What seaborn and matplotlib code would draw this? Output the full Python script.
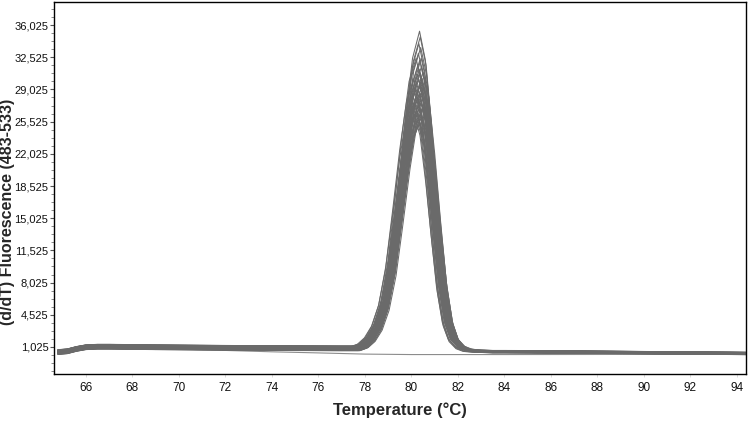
import numpy as np
import pandas as pd
import seaborn as sns
import matplotlib
matplotlib.use("Agg")
import matplotlib.pyplot as plt
from matplotlib.ticker import FixedLocator, AutoMinorLocator

# ---- data ----
# shared baseline (before and after the melt peak)
base_left_T = [64.8, 65.2, 65.6, 66.0, 66.5, 67.0, 68.0, 69.0, 70.0, 71.0, 72.0, 73.0, 74.0, 75.0, 76.0, 77.0, 77.6]
base_left_v = [480, 560, 820, 1000, 1060, 1060, 1030, 1000, 980, 960, 940, 920, 910, 900, 890, 880, 880]
base_right_T = [82.9, 83.5, 84.0, 85.0, 86.0, 87.0, 88.0, 89.0, 90.0, 91.0, 92.0, 93.0, 94.0, 94.4]
base_right_v = [560, 520, 520, 510, 490, 470, 450, 430, 410, 390, 370, 350, 330, 320]

# melt-peak profile: offset from peak temperature (°C) and fraction of peak height
peak_offset = [-2.7, -2.4, -2.1, -1.8, -1.5, -1.2, -0.9, -0.6, -0.3, 0.0, 0.25, 0.5, 0.75, 1.0, 1.25, 1.5, 1.8, 2.1, 2.5]
peak_frac = [0.0, 0.01, 0.035, 0.08, 0.16, 0.30, 0.51, 0.73, 0.91, 1.0, 0.91, 0.71, 0.47, 0.25, 0.11, 0.045, 0.015, 0.004, 0.0]

# individual samples: peak height, peak temperature, baseline offset
peak_height = [34900, 34100, 33500, 32900, 32400, 32000, 31600, 31200, 30900, 30600,
               30300, 30000, 29800, 29500, 29300, 29100, 28900, 28700, 28500, 28300,
               28100, 27900, 27700, 27500, 27300, 27100, 26900, 26700, 26500, 26300,
               26100, 25900, 25700, 25500, 25200, 24800, 29600, 28800, 27600, 26400,
               31800, 30400, 28000, 27000, 25900, 24600]
peak_temp = [80.35, 80.38, 80.32, 80.40, 80.30, 80.42, 80.36, 80.28, 80.44, 80.34,
             80.38, 80.26, 80.46, 80.32, 80.40, 80.22, 80.36, 80.44, 80.30, 80.18,
             80.40, 80.34, 80.48, 80.26, 80.38, 80.14, 80.42, 80.30, 80.50, 80.22,
             80.36, 80.12, 80.44, 80.28, 80.40, 80.34, 80.10, 80.52, 80.08, 80.46,
             80.20, 80.50, 80.16, 80.54, 80.24, 80.30]
base_shift = [-200, 150, -100, 250, 0, -250, 100, -150, 200, 50,
              -50, 180, -220, 120, -80, 230, -180, 60, -30, 160,
              -120, 210, -260, 90, 20, -170, 140, -60, 240, -10,
              110, -230, 70, -140, 190, -90, 30, -200, 170, -40,
              80, -110, 220, -190, 130, -70]

# negative control (flat trace)
ctrl_T = [64.8, 65.4, 66.0, 67.0, 70.0, 72.0, 74.0, 76.0, 78.0, 80.0, 84.0, 88.0, 92.0, 94.4]
ctrl_v = [430, 650, 900, 900, 800, 650, 500, 380, 250, 200, 200, 210, 230, 240]

y_ticks = [1025, 4525, 8025, 11525, 15025, 18525, 22025, 25525, 29025, 32525, 36025]
x_ticks = [66, 68, 70, 72, 74, 76, 78, 80, 82, 84, 86, 88, 90, 92, 94]

# ---- build long table ----
rows = []
for i, (h, tp, bs) in enumerate(zip(peak_height, peak_temp, base_shift)):
    rb = base_right_v[0] + bs * 0.5
    for t, v in zip(base_left_T, base_left_v):
        if t < tp + peak_offset[0]:
            rows.append((i, t, v + bs))
    for o, f in zip(peak_offset, peak_frac):
        b = (base_left_v[-1] + bs) if o < 0 else rb
        rows.append((i, tp + o, b + h * f))
    for t, v in zip(base_right_T, base_right_v):
        if t > tp + peak_offset[-1]:
            rows.append((i, t, v + bs * 0.5))
df = pd.DataFrame(rows, columns=["sample", "temp", "value"])
ctrl = pd.DataFrame({"temp": ctrl_T, "value": ctrl_v})

# ---- plot ----
sns.set_theme(style="white")
plt.rcParams["font.family"] = ["Liberation Sans", "DejaVu Sans"]

fig = plt.figure(figsize=(7.5, 4.24), dpi=100)
ax = fig.add_axes([0.072, 0.118, 0.923, 0.877])

sns.lineplot(data=ctrl, x="temp", y="value", ax=ax, color="#8c8c8c",
             linewidth=0.8, sort=False, legend=False)
sns.lineplot(data=df, x="temp", y="value", units="sample", estimator=None,
             ax=ax, color="#6a6a6a", linewidth=0.75, sort=False, legend=False)

ax.set_xlim(64.63, 94.4)
ax.set_ylim(-1910, 38520)
ax.xaxis.set_major_locator(FixedLocator(x_ticks))
ax.yaxis.set_major_locator(FixedLocator(y_ticks))
ax.set_xticklabels([str(t) for t in x_ticks])
ax.set_yticklabels([f"{v:,}" for v in y_ticks])
ax.yaxis.set_minor_locator(AutoMinorLocator(4))

for side in ["top", "right", "left", "bottom"]:
    ax.spines[side].set_visible(True)
    ax.spines[side].set_color("black")
    ax.spines[side].set_linewidth(1.0)

ax.tick_params(axis="y", which="major", direction="out", length=3, width=0.8,
               color="#555555", labelsize=8, pad=1, left=True)
ax.tick_params(axis="y", which="minor", direction="out", length=2, width=0.6,
               color="#777777", left=True)
ax.tick_params(axis="x", which="major", direction="out", length=2, width=0.5,
               color="#cccccc", labelsize=8.5, pad=4, bottom=True)
for lab in ax.get_yticklabels() + ax.get_xticklabels():
    lab.set_color("#111111")

ax.set_xlabel("Temperature (°C)", fontsize=12, fontweight="bold")
ax.set_ylabel("(d/dT) Fluorescence (483-533)", fontsize=11.5, fontweight="bold")
ax.xaxis.set_label_coords(0.5, -0.097)
ax.yaxis.set_label_coords(-0.067, 0.435)
ax.xaxis.label.set_va("center")
ax.yaxis.label.set_va("center")

fig.savefig("out.png", dpi=100)
